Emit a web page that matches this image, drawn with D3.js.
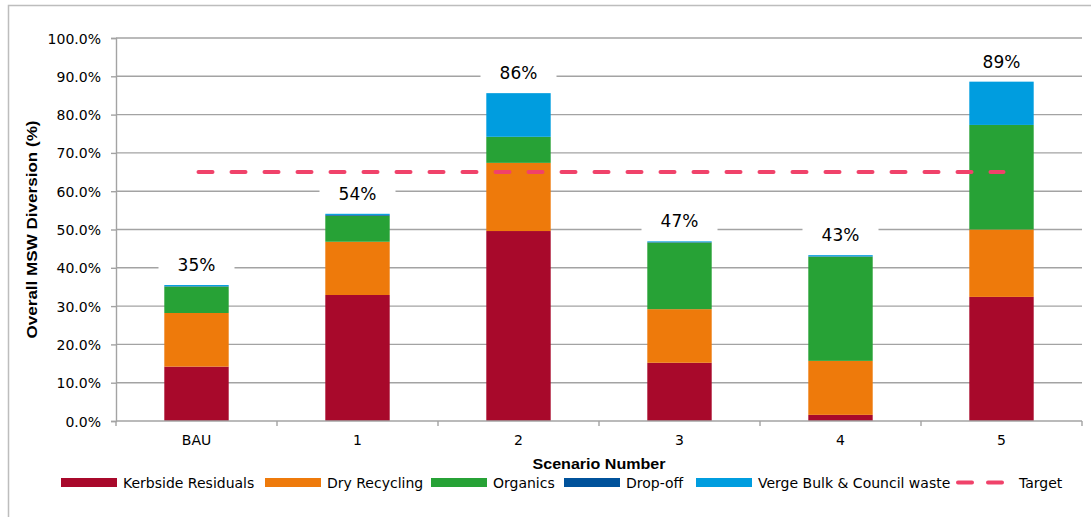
<!DOCTYPE html>
<html><head><meta charset="utf-8">
<script src="https://cdn.jsdelivr.net/npm/d3@7"></script>
<style>body{margin:0;background:#fff}</style>
</head><body><svg id="c" width="1091" height="517"></svg>
<script>
const categories = ["BAU","1","2","3","4","5"];
const seriesNames = ["Kerbside Residuals","Dry Recycling","Organics","Drop-off","Verge Bulk & Council waste"];
const kerbside = [14.2, 32.9, 49.6, 15.2, 1.6, 32.4];
const dryRecycling = [14.0, 13.9, 17.8, 14.0, 14.1, 17.6];
const organics = [6.9, 6.8, 6.8, 17.4, 27.2, 27.3];
const dropOff = [0.1, 0.2, 0.0, 0.1, 0.1, 0.0];
const verge = [0.3, 0.3, 11.4, 0.2, 0.3, 11.3];
const totalLabels = ["35%","54%","86%","47%","43%","89%"];
const target = 65;
const yTicks = [0,10,20,30,40,50,60,70,80,90,100];
const colors = ["#a8092b","#ee7a0b","#27a236","#00529b","#009ddf"];
const targetColor = "#f0426a";

const svg = d3.select("#c");
const L=116, R=1082, T=38, B=421;
const x = d3.scaleBand().domain(categories).range([L,R]).paddingInner(0.6).paddingOuter(0.3);
const y = d3.scaleLinear().domain([0,100]).range([B,T]);
const font = "DejaVu Sans, Verdana, sans-serif";
const bold = "Liberation Sans, Arial, sans-serif";

// outer frame
svg.append("path").attr("d","M8.5,517 L8.5,5.5 L1091,5.5").attr("fill","none").attr("stroke","#bdbdbd").attr("stroke-width",1.5);

// gridlines
svg.append("g").selectAll("line").data(yTicks.filter(d=>d>0)).join("line")
  .attr("x1",L).attr("x2",R).attr("y1",d=>y(d)).attr("y2",d=>y(d))
  .attr("stroke","#a3a3a3").attr("stroke-width",1.4);

// y axis
const ya = svg.append("g").attr("transform",`translate(${L},0)`)
  .call(d3.axisLeft(y).tickValues(yTicks).tickSize(5).tickPadding(10).tickFormat(d=>d.toFixed(1)+"%"));
ya.select(".domain").attr("stroke","#a3a3a3").attr("stroke-width",1.4);
ya.selectAll(".tick line").attr("stroke","#a3a3a3").attr("stroke-width",1.4);
ya.selectAll("text").attr("font-family",font).attr("font-size",14).attr("fill","#000").attr("dy","0.36em");

// stacked bars
const rows = categories.map((c,i)=>({cat:c, s0:kerbside[i], s1:dryRecycling[i], s2:organics[i], s3:dropOff[i], s4:verge[i]}));
const stack = d3.stack().keys(["s0","s1","s2","s3","s4"])(rows);
svg.append("g").selectAll("g").data(stack).join("g").attr("fill",(d,i)=>colors[i])
  .selectAll("rect").data(d=>d).join("rect")
  .attr("x",d=>x(d.data.cat)).attr("width",x.bandwidth())
  .attr("y",d=>y(d[1])).attr("height",d=>Math.max(0,y(d[0])-y(d[1])));

// x axis
const stepW = x.step();
const xa = svg.append("g");
xa.append("line").attr("x1",L).attr("x2",R).attr("y1",B).attr("y2",B).attr("stroke","#a3a3a3").attr("stroke-width",1.4);
const bounds = d3.range(categories.length+1).map(i=>L+i*stepW);
xa.selectAll(".tk").data(bounds).join("line").attr("class","tk")
  .attr("x1",d=>d).attr("x2",d=>d).attr("y1",B).attr("y2",B+5).attr("stroke","#a3a3a3").attr("stroke-width",1.4);
xa.selectAll("text").data(categories).join("text")
  .attr("x",d=>x(d)+x.bandwidth()/2).attr("y",445).attr("text-anchor","middle")
  .attr("font-family",font).attr("font-size",14).text(d=>d);

// target line
svg.append("line")
  .attr("x1",x(categories[0])+x.bandwidth()/2+2).attr("x2",x(categories[5])+x.bandwidth()/2+2)
  .attr("y1",y(target)).attr("y2",y(target))
  .attr("stroke",targetColor).attr("stroke-width",4).attr("stroke-linecap","round")
  .attr("stroke-dasharray","14,19");

// total labels
const totals = categories.map((c,i)=>kerbside[i]+dryRecycling[i]+organics[i]+dropOff[i]+verge[i]);
const lg = svg.append("g");
categories.forEach((c,i)=>{
  const cx = x(c)+x.bandwidth()/2;
  const cy = y(totals[i]) - 20;
  lg.append("rect").attr("x",cx-38).attr("y",cy-10).attr("width",76).attr("height",20).attr("fill","#fff");
  lg.append("text").attr("x",cx).attr("y",cy).attr("dy","0.36em").attr("text-anchor","middle")
    .attr("font-family",font).attr("font-size",17).text(totalLabels[i]);
});

// axis titles
svg.append("text").attr("x",(L+R)/2).attr("y",469).attr("text-anchor","middle")
  .attr("font-family",bold).attr("font-weight","bold").attr("font-size",14)
  .attr("textLength",133).attr("lengthAdjust","spacingAndGlyphs").text("Scenario Number");
svg.append("text").attr("transform",`translate(37,${(T+B)/2}) rotate(-90)`).attr("text-anchor","middle")
  .attr("font-family",bold).attr("font-weight","bold").attr("font-size",14)
  .attr("textLength",218).attr("lengthAdjust","spacingAndGlyphs").text("Overall MSW Diversion (%)");

// legend
const legX = [61,265,431,564,696];
const leg = svg.append("g");
seriesNames.forEach((n,i)=>{
  leg.append("rect").attr("x",legX[i]).attr("y",478).attr("width",56).attr("height",9).attr("fill",colors[i]);
  leg.append("text").attr("x",legX[i]+62).attr("y",482.5).attr("dy","0.36em")
    .attr("font-family",font).attr("font-size",14).text(n);
});
leg.append("line").attr("x1",958).attr("x2",1006).attr("y1",482.5).attr("y2",482.5)
  .attr("stroke",targetColor).attr("stroke-width",4).attr("stroke-linecap","round").attr("stroke-dasharray","14,16");
leg.append("text").attr("x",1019).attr("y",482.5).attr("dy","0.36em").attr("font-family",font).attr("font-size",14).text("Target");
</script></body></html>
